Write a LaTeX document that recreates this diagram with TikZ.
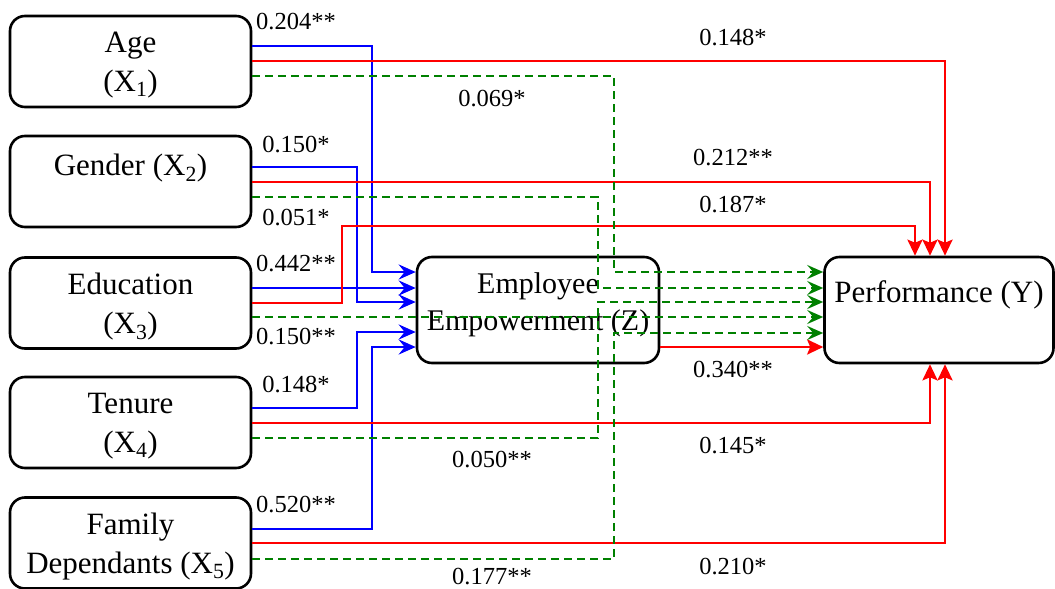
\documentclass[tikz,border=0pt]{standalone}
\usepackage{fontspec}
\setmainfont{Liberation Serif}
\usetikzlibrary{arrows.meta}
\definecolor{dgreen}{RGB}{0,128,0}
\begin{document}
\begin{tikzpicture}[x=1pt,y=-1pt,
 box/.style={draw,line width=2.6pt,rounded corners=15pt,minimum width=241pt,minimum height=91pt,inner sep=0pt,align=center,text depth=0pt,font=\fontsize{31}{39}\selectfont},
 lab/.style={inner sep=0pt,font=\fontsize{24.5}{28}\selectfont},
 bl/.style={draw=blue,line width=2.7pt,-{Stealth[length=17pt,width=15pt,inset=6pt]}},
 rd/.style={draw=red,line width=2.7pt,-{Stealth[length=16pt,width=15pt,inset=3pt]}},
 gr/.style={draw=dgreen,line width=2.7pt,dash pattern=on 8pt off 5pt,-{Stealth[length=16pt,width=14pt,inset=6pt]}}]
\useasboundingbox (0,0) rectangle (1055,589);
% boxes
\node[box] (age) at (130.5,61.5) {Age\\(X\textsubscript{1})};
\node[box,text depth=34pt] (gender) at (130.5,181.5) {Gender (X\textsubscript{2})};
\node[box] (edu) at (130.5,303) {Education\\(X\textsubscript{3})};
\node[box] (ten) at (130.5,422.5) {Tenure\\(X\textsubscript{4})};
\node[box] (fam) at (130.5,543) {Family\\Dependants (X\textsubscript{5})};
\node[box,minimum width=242pt,minimum height=106pt,text depth=16pt,font=\fontsize{30}{37}\selectfont] (emp) at (538,310) {Employee\\Empowerment (Z)};
\node[box,minimum width=229pt,minimum height=106pt,text depth=37pt] (perf) at (939,310) {Performance (Y)};
% blue: X -> Z
\draw[bl] (age.east |- 0,46) -| (372,272) -- (emp.west |- 0,272);
\draw[bl] (gender.east |- 0,167) -| (357,302) -- (emp.west |- 0,302);
\draw[bl] (edu.east |- 0,288) -- (emp.west |- 0,288);
\draw[bl] (ten.east |- 0,408) -| (357,332) -- (emp.west |- 0,332);
\draw[bl] (fam.east |- 0,529) -| (372,347) -- (emp.west |- 0,347);
% red: X -> Y, Z -> Y
\draw[rd] (age.east |- 0,61) -| (perf.north -| 945,0);
\draw[rd] (gender.east |- 0,182) -| (perf.north -| 930,0);
\draw[rd] (edu.east |- 0,303) -- (342,303) -- (342,226) -| (perf.north -| 915,0);
\draw[rd] (ten.east |- 0,423) -| (perf.south -| 930,0);
\draw[rd] (fam.east |- 0,543) -| (perf.south -| 945,0);
\draw[rd] (emp.east |- 0,347) -- (perf.west |- 0,347);
% green dashed: indirect
\draw[gr] (age.east |- 0,76) -| (614,272) -- (perf.west |- 0,272);
\draw[gr] (gender.east |- 0,197) -| (598,288) -- (perf.west |- 0,288);
\draw[gr] (edu.east |- 0,317) -- (perf.west |- 0,317);
\draw[gr] (ten.east |- 0,438) -| (598,302) -- (perf.west |- 0,302);
\draw[gr] (fam.east |- 0,559) -| (614,333) -- (perf.west |- 0,333);
% labels
\node[lab] (l1) at (296,22) {0.204**};
\node[lab] (l2) at (296,145) {0.150*};
\node[lab] (l3) at (296,218) {0.051*};
\node[lab] (l4) at (296,264) {0.442**};
\node[lab] (l5) at (296,337) {0.150**};
\node[lab] (l6) at (296,385) {0.148*};
\node[lab] (l7) at (296,505) {0.520**};
\node[lab] (l8) at (492,99) {0.069*};
\node[lab] (l9) at (492,460) {0.050**};
\node[lab] (l10) at (492,577) {0.177**};
\node[lab] (l11) at (733,38) {0.148*};
\node[lab] (l12) at (733,158) {0.212**};
\node[lab] (l13) at (733,205) {0.187*};
\node[lab] (l14) at (733,370) {0.340**};
\node[lab] (l15) at (733,446) {0.145*};
\node[lab] (l16) at (733,567) {0.210*};
\end{tikzpicture}
\end{document}
